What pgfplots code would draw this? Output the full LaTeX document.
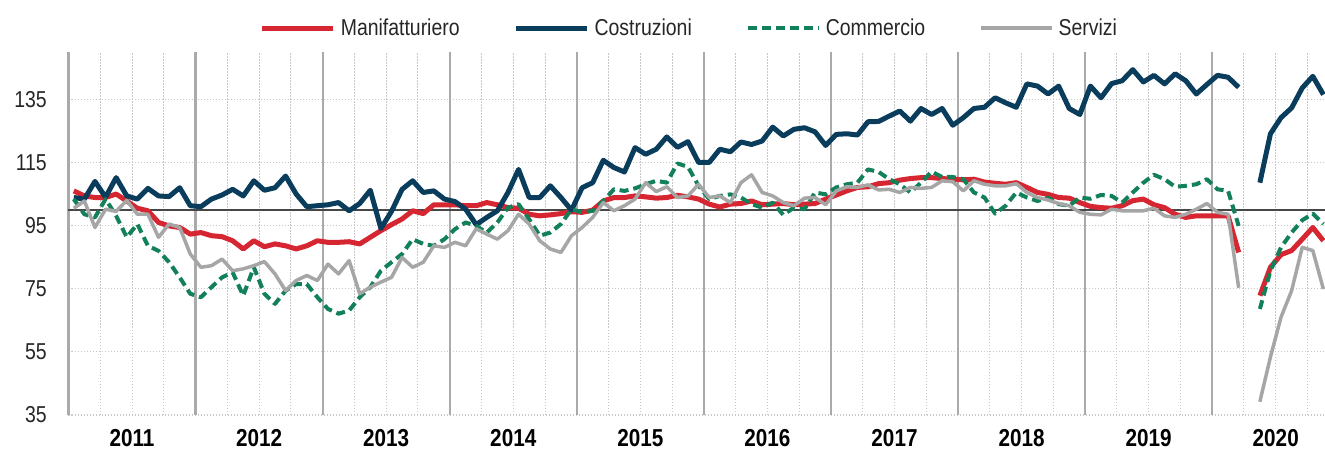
\documentclass[border=0pt]{standalone}
\usepackage{fontspec}
\setmainfont{Liberation Sans}[FakeStretch=0.845]
\usepackage{pgfplots}
\usepackage{pgfplotstable}
\pgfplotsset{compat=1.18}
\definecolor{cManif}{RGB}{214,38,49}
\definecolor{cCostr}{RGB}{10,60,92}
\definecolor{cComm}{RGB}{18,128,88}
\definecolor{cServ}{RGB}{166,166,166}
\definecolor{cGrid}{RGB}{200,200,200}
\definecolor{cYear}{RGB}{170,170,170}

\pgfplotstableread{
i manif costr comm serv
0 106.0 103.9 103.4 100.5
1 104.4 103.4 98.6 102.8
2 103.9 109.0 97.6 94.4
3 103.9 104.0 103.4 100.2
4 105.0 110.2 98.1 99.5
5 102.8 104.4 91.3 103.0
6 100.5 103.4 95.5 98.6
7 99.7 106.8 88.6 98.6
8 96.0 104.4 87.0 91.3
9 94.9 104.2 83.4 95.5
10 94.4 107.0 78.6 94.4
11 92.3 101.3 73.4 86.0
12 92.8 101.0 72.3 81.8
13 91.8 103.4 75.5 82.3
14 91.5 104.7 78.6 84.4
15 90.2 106.5 80.2 80.7
16 87.6 104.4 72.8 81.3
17 90.2 109.2 81.8 82.3
18 88.3 106.2 73.4 83.6
19 89.2 107.0 70.2 79.7
20 88.6 110.7 74.4 74.4
21 87.6 105.0 76.5 77.6
22 88.6 101.0 76.5 79.2
23 90.2 101.3 72.3 77.6
24 89.7 101.6 68.6 82.8
25 89.7 102.3 67.1 79.7
26 89.9 99.7 68.1 83.9
27 89.2 102.0 72.3 73.4
28 91.3 106.2 75.5 75.5
29 93.4 94.1 80.7 77.1
30 95.3 99.5 83.4 78.6
31 97.1 106.5 86.0 84.9
32 99.7 109.2 90.7 81.8
33 98.8 105.5 89.2 83.4
34 101.6 106.0 88.6 88.6
35 101.6 103.4 90.7 88.1
36 101.6 102.6 93.9 89.7
37 101.3 100.2 96.0 88.6
38 101.3 95.3 94.9 94.0
39 102.3 97.6 92.8 92.3
40 101.6 99.7 96.0 90.7
41 100.7 105.5 100.7 93.4
42 100.5 112.8 101.8 98.6
43 98.6 103.9 97.0 95.5
44 98.1 103.9 91.8 90.2
45 98.4 107.6 92.8 87.6
46 98.8 103.9 95.5 86.5
47 99.4 99.9 100.2 91.8
48 99.2 107.0 99.2 94.4
49 99.9 108.6 99.7 97.6
50 102.8 115.7 102.8 102.3
51 103.9 113.4 106.5 99.7
52 103.9 112.0 106.0 101.3
53 104.4 119.7 106.8 103.4
54 104.1 117.6 108.1 108.6
55 103.7 119.2 109.2 105.8
56 103.9 123.1 108.6 107.3
57 104.6 119.8 114.7 103.9
58 104.1 121.6 113.6 104.4
59 103.4 115.0 107.6 108.1
60 101.8 115.0 103.4 103.9
61 100.9 119.2 104.4 104.4
62 101.8 118.4 104.9 102.3
63 102.0 121.5 103.9 108.6
64 102.8 120.7 101.8 111.1
65 101.6 121.8 100.7 105.5
66 101.8 126.2 102.3 104.4
67 102.0 123.4 98.4 102.3
68 101.6 125.5 100.7 101.3
69 101.8 126.0 100.2 103.7
70 102.0 124.7 105.5 103.9
71 103.4 120.4 104.9 101.6
72 104.7 123.9 107.1 106.0
73 106.0 124.1 108.1 107.3
74 107.1 123.7 108.6 107.1
75 107.3 127.9 112.8 107.9
76 108.3 128.0 112.0 106.3
77 108.6 129.7 109.7 106.5
78 109.4 131.3 108.1 105.5
79 109.9 128.1 105.5 107.1
80 110.2 132.1 108.6 106.8
81 110.2 130.2 112.1 107.1
82 109.9 132.1 110.4 109.2
83 109.7 126.8 110.4 108.9
84 109.5 129.2 109.7 106.0
85 109.7 132.1 105.5 109.2
86 108.8 132.5 103.9 108.1
87 108.4 135.5 98.8 107.6
88 108.1 133.9 101.3 107.6
89 108.6 132.5 105.5 108.3
90 107.1 139.9 103.9 105.5
91 105.5 139.2 102.8 103.9
92 104.9 136.7 103.9 103.1
93 103.9 139.2 101.8 102.0
94 103.7 132.1 101.3 101.3
95 102.3 130.2 103.9 99.2
96 101.1 139.2 103.5 98.6
97 100.7 135.5 104.7 98.4
98 100.5 140.0 104.4 100.2
99 101.3 140.9 102.3 99.7
100 102.9 144.4 105.5 99.7
101 103.4 140.5 108.6 99.7
102 101.6 142.6 111.1 100.5
103 100.7 139.9 109.7 98.1
104 98.6 143.1 107.3 97.6
105 97.6 140.9 107.6 98.6
106 98.1 136.7 108.1 100.2
107 98.1 139.7 109.7 102.0
108 98.1 142.6 106.5 99.2
109 98.1 142.0 106.0 98.6
110 86.5 138.8 94.9 75.3
111 nan nan nan nan
112 72.8 108.6 68.6 39.2
113 81.8 124.1 80.7 53.4
114 85.8 129.2 88.1 66.0
115 87.1 132.3 92.8 74.4
116 90.7 138.6 96.7 88.1
117 94.4 142.3 98.8 87.1
118 90.2 136.5 95.5 74.9
}\datatable

\begin{document}
\begin{tikzpicture}
\useasboundingbox (0,0) rectangle (1325pt,450pt);
\begin{axis}[
  at={(68.5pt,35pt)}, anchor=south west,
  width=1256.5pt, height=363pt, scale only axis,
  xmin=-0.5, xmax=118.15, ymin=35, ymax=150,
  unbounded coords=jump,
  no markers,
  axis line style={draw=none},
  major tick length=0pt, minor tick length=0pt,
  ytick={35,55,75,95,115,135},
  xtick={5.5,17.5,29.5,41.5,53.5,65.5,77.5,89.5,101.5,113.5},
  xticklabels={2011,2012,2013,2014,2015,2016,2017,2018,2019,2020},
  minor xtick={2.5,5.5,8.5,14.5,17.5,20.5,26.5,29.5,32.5,38.5,41.5,44.5,50.5,53.5,56.5,62.5,65.5,68.5,74.5,77.5,80.5,86.5,89.5,92.5,98.5,101.5,104.5,110.5,113.5,116.5},
  ymajorgrids, xminorgrids,
  major grid style={dash pattern=on 1.5pt off 1.5pt, color=cGrid, line width=1.2pt},
  minor grid style={dash pattern=on 1.5pt off 1.5pt, color=cGrid, line width=1pt},
  extra x ticks={-0.5,11.5,23.5,35.5,47.5,59.5,71.5,83.5,95.5,107.5},
  extra x tick labels={},
  extra x tick style={grid=major, major grid style={solid, color=cYear, line width=2.3pt}},
  extra y ticks={100},
  extra y tick labels={},
  extra y tick style={grid=major, major grid style={solid, color=black!72, line width=1.6pt}},
  /pgf/number format/assume math mode=true,
  yticklabel style={font=\fontsize{23}{23}\selectfont, inner sep=0pt, xshift=-21.5pt, text=black!85},
  xticklabel style={font=\bfseries\fontsize{24.5}{24.5}\selectfont, inner sep=0pt, yshift=-14pt},
  legend style={at={(0.4934,1.066)}, anchor=center, draw=none, fill=none,
    font=\fontsize{23}{23}\selectfont, legend columns=4, inner sep=0pt,
    nodes={inner sep=0pt, text=black!85},
    /tikz/every even column/.append style={column sep=54pt}},
  legend image code/.code={\draw[#1] (0pt,0pt) -- (71pt,0pt); \path (76pt,0pt);},
]
\addplot[cManif, line width=5pt, line join=round] table[x=i, y=manif] {\datatable};
\addlegendentry{Manifatturiero}
\addplot[cCostr, line width=5pt, line join=round] table[x=i, y=costr] {\datatable};
\addlegendentry{Costruzioni}
\addplot[cComm, line width=4pt, line join=round, dash pattern=on 9pt off 5pt] table[x=i, y=comm] {\datatable};
\addlegendentry{Commercio}
\addplot[cServ, line width=3.5pt, line join=round] table[x=i, y=serv] {\datatable};
\addlegendentry{Servizi}
\end{axis}
\end{tikzpicture}
\end{document}
